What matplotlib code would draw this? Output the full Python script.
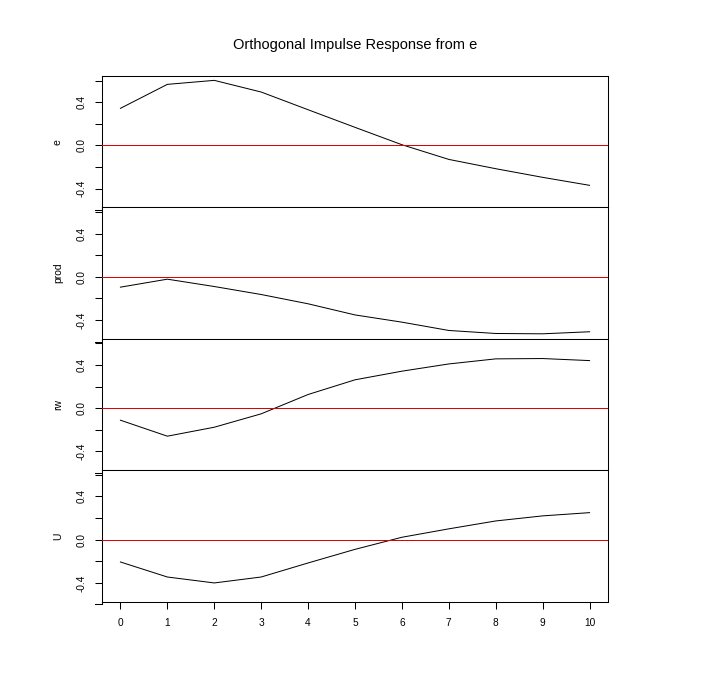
import numpy as np
import matplotlib.pyplot as plt
from matplotlib.ticker import FixedLocator, FuncFormatter

plt.rcParams['font.family'] = ['Liberation Sans', 'DejaVu Sans']

steps = np.arange(11)
names = ["e", "prod", "rw", "U"]
e_resp = [0.343, 0.565, 0.602, 0.494, 0.33, 0.167, 0.006, -0.13, -0.216, -0.296, -0.37]
prod_resp = [-0.096, -0.022, -0.09, -0.164, -0.25, -0.353, -0.42, -0.497, -0.525, -0.528, -0.509]
rw_resp = [-0.111, -0.259, -0.176, -0.052, 0.127, 0.263, 0.343, 0.41, 0.457, 0.46, 0.441]
U_resp = [-0.207, -0.346, -0.401, -0.346, -0.216, -0.09, 0.022, 0.10, 0.173, 0.22, 0.25]
responses = [e_resp, prod_resp, rw_resp, U_resp]

yticks = [-0.6, -0.4, -0.2, 0.0, 0.2, 0.4, 0.6]
ylabeled = {-0.4: "-0.4", 0.0: "0.0", 0.4: "0.4"}
ylim = (-0.575, 0.642)
xlim = (-0.4, 10.4)

lw = 0.75
fig, axes = plt.subplots(4, 1, figsize=(7.1, 6.79), dpi=100, sharex=True,
                         gridspec_kw={"hspace": 0})
fig.subplots_adjust(left=0.1432, right=0.8568, bottom=0.1138, top=0.888)

for ax, name, vals in zip(axes, names, responses):
    ax.plot(steps, vals, color="black", lw=0.72)
    # one crisp pixel, like the R bitmap device
    ax.axhline(0, color="#e00000", lw=0.5, antialiased=False, zorder=3)
    ax.set_xlim(*xlim)
    ax.set_ylim(*ylim)
    ax.yaxis.set_major_locator(FixedLocator(yticks))
    ax.yaxis.set_major_formatter(
        FuncFormatter(lambda v, p: ylabeled.get(round(v, 1), "")))
    ax.tick_params(axis="y", length=4.8, width=lw, pad=6, labelsize=7.2,
                   labelrotation=90)
    for lab in ax.get_yticklabels():
        lab.set_verticalalignment("center")
    ax.set_ylabel(name, fontsize=7.5, labelpad=10)
    for sp in ax.spines.values():
        sp.set_linewidth(lw)
    # R axis runs down to the -0.6 tick, below the box
    tr = ax.get_yaxis_transform()
    tick_ax = 4.8 / 72 * 100 / (0.7136 * 710)
    ax.plot([0, 0], [ylim[0], -0.6], color="black", lw=lw, transform=tr, clip_on=False)
    ax.plot([0, -tick_ax], [-0.6, -0.6], color="black", lw=lw, transform=tr, clip_on=False)
    ax.tick_params(axis="x", length=0)

axes[-1].set_xticks(steps)
axes[-1].tick_params(axis="x", length=4.8, width=lw, pad=7, labelsize=7.3)

fig.suptitle("Orthogonal Impulse Response from e", x=0.5, y=0.944, fontsize=10.5)
fig.savefig("out.png", dpi=100)
